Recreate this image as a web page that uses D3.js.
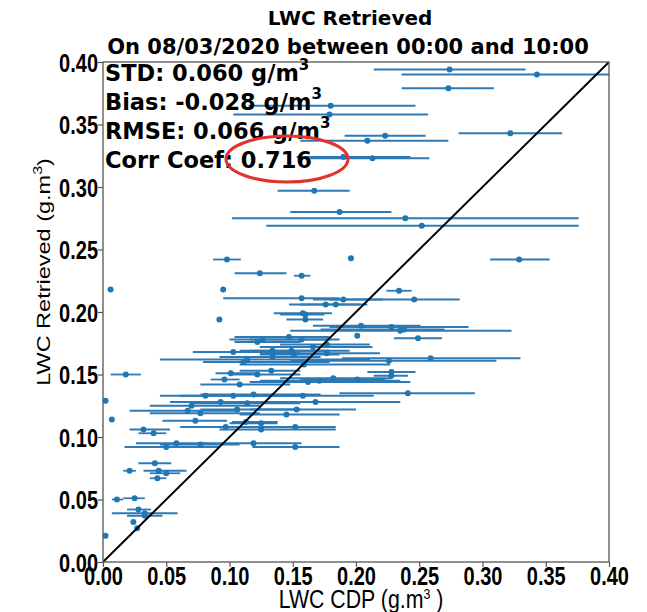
<!DOCTYPE html>
<html>
<head>
<meta charset="utf-8">
<script src="https://cdn.jsdelivr.net/npm/d3@7"></script>
<style>
body { margin: 0; background: #fff; }
</style>
</head>
<body>
<script>
// CDP (x) vs retrieved (y) LWC, with the CDP spread as horizontal error bars
var cdp = [0.274,0.343,0.273,0.180,0.179,0.223,0.209,0.322,0.190,0.213,
  0.167,0.187,0.239,0.252,0.098,0.196,0.329,0.124,0.157,0.006,
  0.095,0.234,0.157,0.190,0.246,0.176,0.184,0.158,0.160,0.160,
  0.092,0.204,0.228,0.235,0.238,0.201,0.249,0.122,0.126,0.147,
  0.157,0.166,0.177,0.103,0.134,0.149,0.151,0.134,0.177,0.114,
  0.111,0.159,0.259,0.226,0.101,0.096,0.122,0.133,0.228,0.228,
  0.018,0.108,0.162,0.171,0.182,0.201,0.081,0.103,0.119,0.158,
  0.241,0.168,0.002,0.093,0.114,0.070,0.067,0.077,0.106,0.153,
  0.145,0.073,0.097,0.113,0.125,0.125,0.152,0.032,0.040,0.058,
  0.077,0.050,0.119,0.152,0.007,0.041,0.021,0.044,0.050,0.043,
  0.011,0.025,0.028,0.033,0.033,0.024,0.027,0.002];
var retrieved = [0.394,0.390,0.379,0.365,0.358,0.341,0.337,0.343,0.324,0.323,
  0.297,0.280,0.275,0.269,0.242,0.243,0.242,0.231,0.229,0.218,
  0.218,0.217,0.211,0.210,0.210,0.206,0.206,0.199,0.198,0.194,
  0.194,0.189,0.188,0.185,0.186,0.181,0.179,0.176,0.178,0.180,
  0.178,0.172,0.174,0.168,0.169,0.169,0.166,0.164,0.167,0.162,
  0.160,0.158,0.163,0.161,0.151,0.146,0.150,0.153,0.152,0.149,
  0.150,0.142,0.144,0.145,0.147,0.146,0.133,0.133,0.134,0.133,
  0.135,0.128,0.129,0.128,0.127,0.125,0.121,0.119,0.122,0.122,
  0.118,0.113,0.108,0.112,0.111,0.106,0.108,0.106,0.103,0.095,
  0.094,0.092,0.095,0.092,0.114,0.079,0.073,0.073,0.071,0.067,
  0.050,0.051,0.042,0.039,0.037,0.032,0.027,0.021];
var cdpLow = [0.214,0.236,0.236,0.115,0.103,0.191,0.156,0.281,0.153,0.164,
  0.138,0.148,0.102,0.129,0.087,0.196,0.306,0.104,0.151,0.006,
  0.095,0.224,0.095,0.166,0.179,0.147,0.156,0.135,0.140,0.145,
  0.092,0.166,0.179,0.148,0.172,0.201,0.230,0.104,0.100,0.104,
  0.116,0.124,0.140,0.071,0.108,0.116,0.124,0.092,0.124,0.045,
  0.079,0.108,0.189,0.148,0.089,0.085,0.100,0.108,0.209,0.214,
  0.006,0.077,0.116,0.124,0.140,0.156,0.045,0.061,0.077,0.108,
  0.187,0.116,0.002,0.053,0.069,0.037,0.021,0.037,0.077,0.116,
  0.108,0.047,0.061,0.102,0.100,0.092,0.116,0.021,0.028,0.026,
  0.045,0.017,0.077,0.118,0.007,0.028,0.016,0.032,0.037,0.037,
  0.007,0.016,0.019,0.007,0.019,0.024,0.027,0.002];
var cdpHigh = [0.334,0.402,0.309,0.247,0.257,0.255,0.273,0.363,0.243,0.258,
  0.195,0.228,0.376,0.376,0.109,0.196,0.353,0.145,0.164,0.006,
  0.095,0.244,0.187,0.221,0.282,0.209,0.203,0.181,0.175,0.174,
  0.092,0.251,0.289,0.323,0.270,0.201,0.268,0.156,0.179,0.179,
  0.187,0.213,0.211,0.156,0.179,0.195,0.187,0.172,0.219,0.211,
  0.179,0.227,0.330,0.311,0.124,0.108,0.156,0.156,0.247,0.241,
  0.030,0.148,0.243,0.235,0.228,0.223,0.124,0.156,0.172,0.214,
  0.294,0.235,0.002,0.148,0.156,0.124,0.108,0.124,0.156,0.200,
  0.187,0.098,0.140,0.138,0.138,0.184,0.184,0.053,0.050,0.082,
  0.108,0.092,0.157,0.187,0.007,0.054,0.026,0.066,0.061,0.050,
  0.016,0.033,0.038,0.059,0.047,0.024,0.027,0.002];
var ticks = [0, 0.05, 0.10, 0.15, 0.20, 0.25, 0.30, 0.35, 0.40];
var statLabels = ["STD: 0.060 g/m", "Bias: -0.028 g/m", "RMSE: 0.066 g/m", "Corr Coef: 0.716"];
var statSup = ["3", "3", "3", ""];

var width = 647, height = 612;
var margin = {left: 103, right: 38, top: 62, bottom: 50};
var w = width - margin.left - margin.right;
var h = height - margin.top - margin.bottom;
var squeeze = 0.8; // axis text in the reference is horizontally narrow

var x = d3.scaleLinear().domain([0, 0.4]).range([0, w]);
var y = d3.scaleLinear().domain([0, 0.4]).range([h, 0]);

var svg = d3.select("body").append("svg").attr("width", width).attr("height", height);
var g = svg.append("g").attr("transform", "translate(" + margin.left + "," + margin.top + ")");

svg.append("defs").append("clipPath").attr("id", "plotclip")
  .append("rect").attr("width", w).attr("height", h);

var pts = cdp.map(function(d, i) {
  return {x: d, y: retrieved[i], lo: cdpLow[i], hi: cdpHigh[i]};
});

var marks = g.append("g").attr("clip-path", "url(#plotclip)");

marks.selectAll("line.err")
  .data(pts)
  .enter().append("line")
  .attr("class", "err")
  .attr("x1", function(d) { return x(d.lo); })
  .attr("x2", function(d) { return x(d.hi); })
  .attr("y1", function(d) { return y(d.y); })
  .attr("y2", function(d) { return y(d.y); })
  .attr("stroke", "#2f7ab4")
  .attr("stroke-width", 1.8);

marks.selectAll("circle")
  .data(pts)
  .enter().append("circle")
  .attr("cx", function(d) { return x(d.x); })
  .attr("cy", function(d) { return y(d.y); })
  .attr("r", 3)
  .attr("fill", "#1f77b4");

// 1:1 line
marks.append("line")
  .attr("x1", x(0)).attr("y1", y(0))
  .attr("x2", x(0.4)).attr("y2", y(0.4))
  .attr("stroke", "#000").attr("stroke-width", 2);

// frame
g.append("rect").attr("width", w).attr("height", h)
  .attr("fill", "none").attr("stroke", "#555").attr("stroke-width", 1.3);

var tickFont = "'Liberation Sans', Arial, sans-serif";

var xAxis = g.append("g")
  .attr("transform", "translate(0," + h + ")")
  .call(d3.axisBottom(x).tickValues(ticks).tickFormat(d3.format(".2f")).tickSize(5));
var yAxis = g.append("g")
  .call(d3.axisLeft(y).tickValues(ticks).tickFormat(d3.format(".2f")).tickSize(5));

[xAxis, yAxis].forEach(function(a) {
  a.select(".domain").remove();
  a.selectAll(".tick line").attr("stroke", "#555").attr("stroke-width", 1.2);
  a.selectAll(".tick text")
    .attr("font-family", tickFont)
    .attr("font-size", 25)
    .attr("font-weight", "bold")
    .attr("fill", "#000")
    .attr("transform", "scale(" + squeeze + ",1)");
});
xAxis.selectAll(".tick text").attr("dy", "0.92em").attr("y", 0);
yAxis.selectAll(".tick text").attr("x", -5 / squeeze).attr("dy", "0.36em");

// axis labels
var xl = svg.append("text")
  .attr("transform", "translate(" + (margin.left + w / 2 + 5) + ",608) scale(0.82,1)")
  .attr("text-anchor", "middle")
  .attr("font-family", tickFont).attr("font-size", 26);
xl.append("tspan").text("LWC CDP (g.m");
xl.append("tspan").attr("dy", -9).attr("font-size", 15).text("3");
xl.append("tspan").attr("dy", 9).text(" )");

var yl = svg.append("text")
  .attr("transform", "translate(50,272) scale(" + squeeze + ",1) rotate(-90)")
  .attr("text-anchor", "middle")
  .attr("font-family", tickFont).attr("font-size", 23.5);
yl.append("tspan").text("LWC Retrieved (g.m");
yl.append("tspan").attr("dy", -10).attr("font-size", 16).text("3");
yl.append("tspan").attr("dy", 10).text(")");

// title
var titleFont = "'DejaVu Sans', sans-serif";
svg.append("text").attr("x", 350).attr("y", 25)
  .attr("text-anchor", "middle").attr("font-family", titleFont)
  .attr("font-weight", "bold").attr("font-size", 20)
  .text("LWC Retrieved");
svg.append("text").attr("x", 348).attr("y", 54)
  .attr("text-anchor", "middle").attr("font-family", titleFont)
  .attr("font-weight", "bold").attr("font-size", 21)
  .text("On 08/03/2020 between 00:00 and 10:00");

// stats block
statLabels.forEach(function(s, i) {
  var t = svg.append("text")
    .attr("x", 105).attr("y", 81 + i * 29)
    .attr("font-family", titleFont).attr("font-weight", "bold")
    .attr("font-size", 22.5).attr("fill", "#000");
  t.append("tspan").text(s);
  if (statSup[i]) t.append("tspan").attr("dy", -11).attr("font-size", 15).text(statSup[i]);
});

// highlight around the correlation value
svg.append("ellipse")
  .attr("cx", 287).attr("cy", 159).attr("rx", 61).attr("ry", 23)
  .attr("fill", "none").attr("stroke", "#e2322b").attr("stroke-width", 3);
</script>
</body>
</html>
